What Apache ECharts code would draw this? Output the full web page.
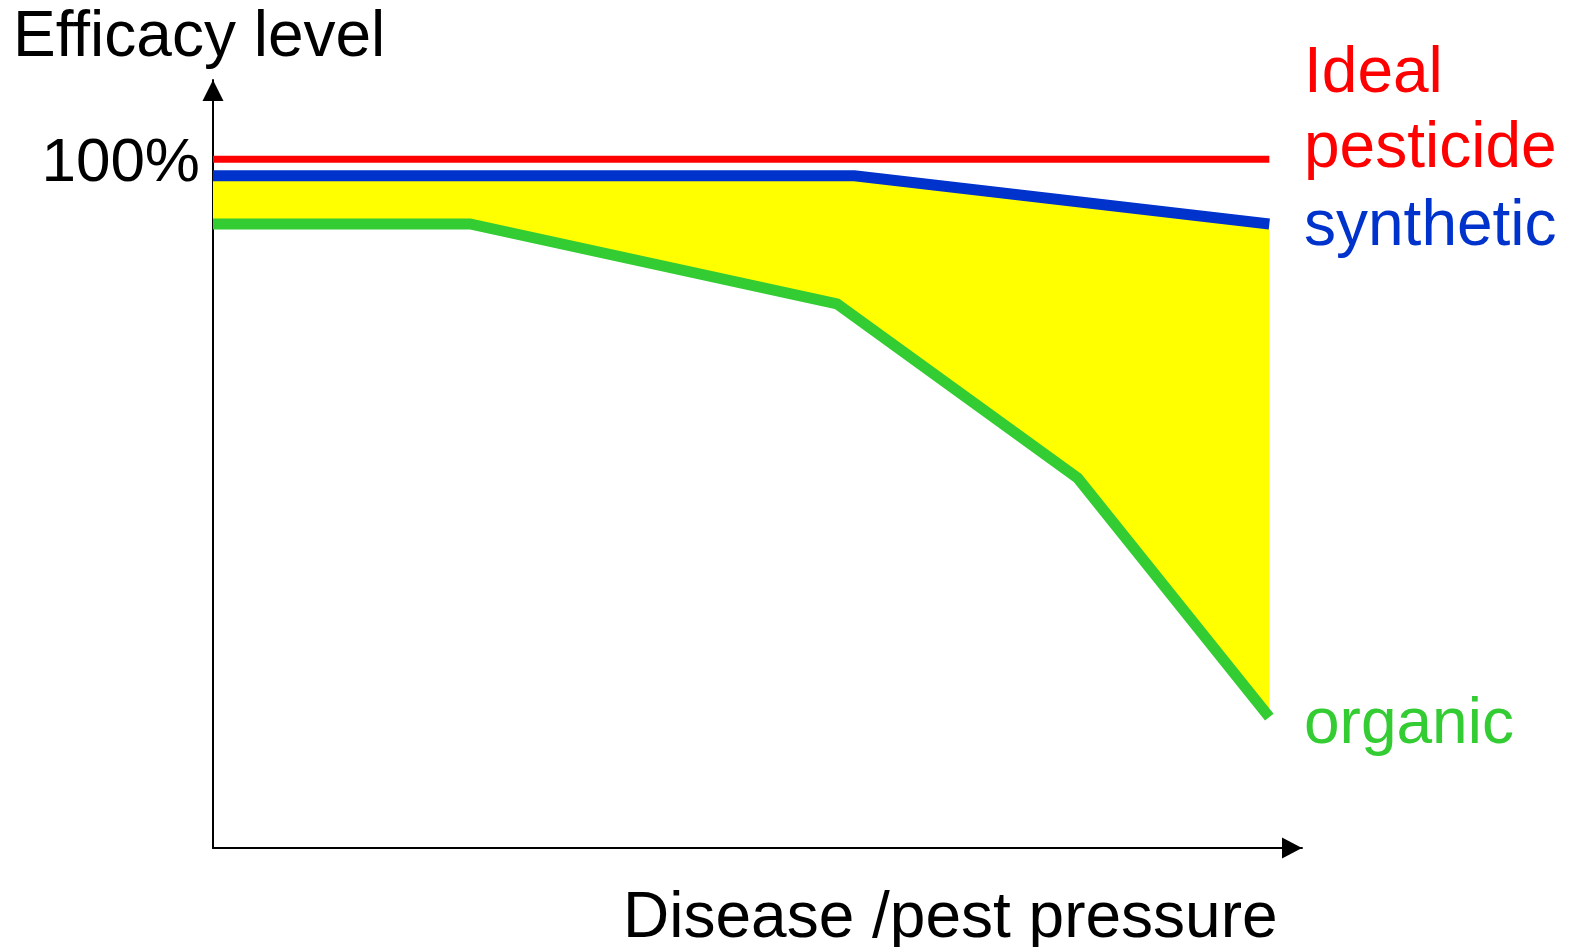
<!DOCTYPE html>
<html>
<head>
<meta charset="utf-8">
<script src="https://cdn.jsdelivr.net/npm/echarts@6/dist/echarts.min.js"></script>
<style>
  html, body { margin: 0; padding: 0; background: #fff; }
  #chart { width: 1572px; height: 947px; }
</style>
</head>
<body>
<div id="chart"></div>
<script>
// Disease / pest pressure (x, arbitrary units) vs. efficacy level (%)
const idealX = [0, 97];
const idealY = [100, 100];
const syntheticX = [0, 58.9, 97];
const syntheticY = [97.6, 97.6, 90.6];
const organicX = [0, 23.6, 57.3, 79.4, 97];
const organicY = [90.6, 90.6, 79.0, 53.7, 19.0];
const yTickValues = [100];

const pairs = (xs, ys) => xs.map((x, i) => [x, ys[i]]);
const ideal = pairs(idealX, idealY);
const synthetic = pairs(syntheticX, syntheticY);
const organic = pairs(organicX, organicY);

const FONT = '"Liberation Sans", Arial, sans-serif';

const chart = echarts.init(document.getElementById('chart'));
chart.setOption({
  backgroundColor: '#ffffff',
  animation: false,
  grid: { left: 213, right: 270, top: 80, bottom: 99, containLabel: false },
  xAxis: {
    type: 'value', min: 0, max: 100,
    axisLine: { show: true, symbol: ['none', 'triangle'], symbolSize: [21, 20], symbolOffset: [0, -10],
      lineStyle: { color: '#000', width: 2 } },
    axisTick: { show: false }, axisLabel: { show: false }, splitLine: { show: false }
  },
  yAxis: {
    type: 'value', min: 0, max: 111.5,
    axisLine: { show: true, symbol: ['none', 'triangle'], symbolSize: [21, 21], symbolOffset: [0, -10.5],
      lineStyle: { color: '#000', width: 2 } },
    axisTick: { show: false },
    axisLabel: {
      show: true, customValues: yTickValues, margin: 13,
      formatter: v => '{pct|' + v + '%}',
      rich: { pct: { fontFamily: FONT, fontSize: 62, color: '#000', padding: [10, 0, 0, 0] } }
    },
    splitLine: { show: false }
  },
  graphic: [
    { type: 'text', left: 13, top: 6, style: { text: 'Efficacy level', font: '64px ' + FONT, fill: '#000' } },
    { type: 'text', left: 623, top: 887, style: { text: 'Disease /pest pressure', font: '64px ' + FONT, fill: '#000' } },
    { type: 'text', left: 1304, top: 42, style: { text: 'Ideal', font: '64px ' + FONT, fill: '#ff0000' } },
    { type: 'text', left: 1304, top: 117, style: { text: 'pesticide', font: '64px ' + FONT, fill: '#ff0000' } },
    { type: 'text', left: 1304, top: 195, style: { text: 'synthetic', font: '64px ' + FONT, fill: '#0033cc' } },
    { type: 'text', left: 1304, top: 693, style: { text: 'organic', font: '64px ' + FONT, fill: '#33cc33' } }
  ],
  series: [
    {
      // yellow band between synthetic and organic efficacy
      type: 'custom',
      silent: true,
      z: 1,
      renderItem: function (params, api) {
        const pts = synthetic.map(p => api.coord(p))
          .concat(organic.slice().reverse().map(p => api.coord(p)));
        return { type: 'polygon', shape: { points: pts }, style: { fill: '#ffff00', stroke: null } };
      },
      data: [[0, 0]]
    },
    {
      name: 'Ideal pesticide', type: 'line', data: ideal, z: 3,
      symbol: 'none', lineStyle: { color: '#ff0000', width: 7, cap: 'butt' }
    },
    {
      name: 'synthetic', type: 'line', data: synthetic, z: 3,
      symbol: 'none', lineStyle: { color: '#0033cc', width: 11, cap: 'butt', join: 'miter' }
    },
    {
      name: 'organic', type: 'line', data: organic, z: 3,
      symbol: 'none', lineStyle: { color: '#33cc33', width: 11, cap: 'butt', join: 'miter' }
    }
  ]
});
</script>
</body>
</html>
